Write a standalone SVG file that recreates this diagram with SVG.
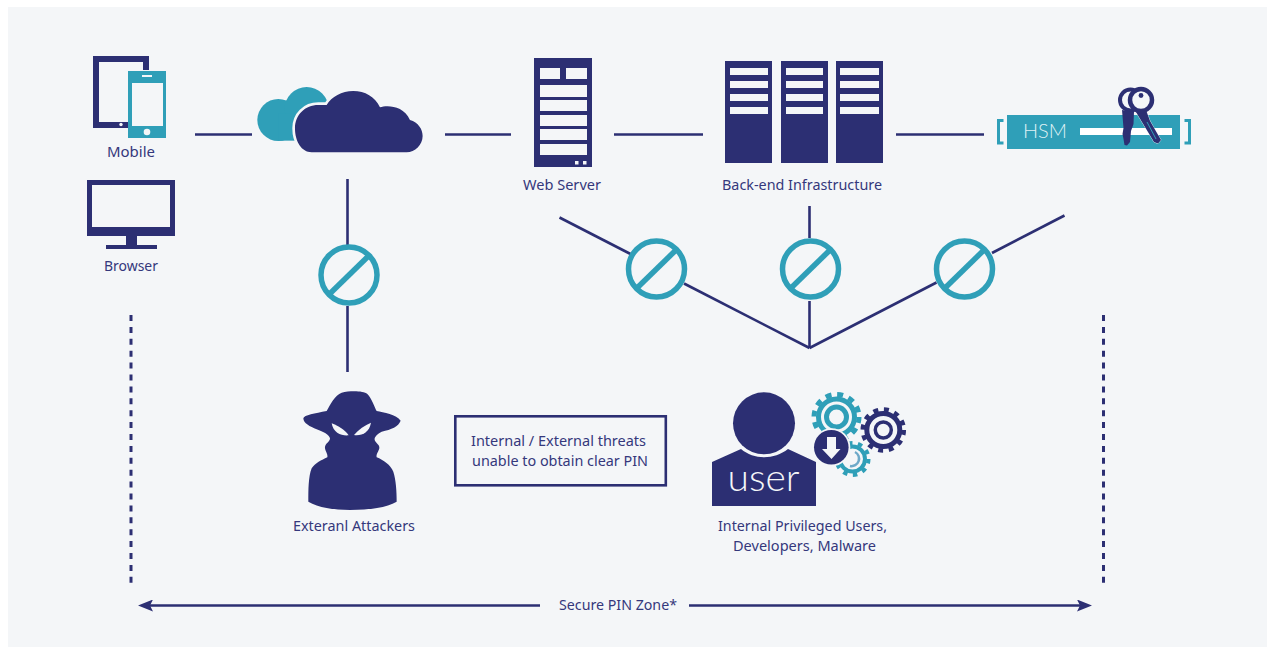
<svg xmlns="http://www.w3.org/2000/svg" width="1267" height="647" viewBox="0 0 1267 647">
<style>
.navy{fill:#2c2f73}
.teal{fill:#2f9fb8}
.bg{fill:#f4f6f8}
.wire{stroke:#2c2f73;stroke-width:2.6;fill:none}
.ring{fill:#f4f6f8;stroke:#2f9fb8;stroke-width:5.5}
.slash{stroke:#2f9fb8;stroke-width:5.5}
.lbl{font-family:"Noto Sans","Open Sans",sans-serif;font-size:14.500px;fill:#35387c}
</style>
<defs>
<marker id="head" viewBox="0 0 15 12" refX="3" refY="6" markerWidth="15" markerHeight="12" markerUnits="userSpaceOnUse" orient="auto-start-reverse"><path d="M0 0L15 6L0 12L3 6Z" fill="#2c2f73"/></marker>
<g id="block"><circle r="28" class="ring"/><line x1="-19.5" y1="19" x2="19.5" y2="-19" class="slash"/></g>
</defs>
<rect width="1267" height="647" fill="#ffffff"/>
<rect x="8" y="7" width="1259" height="640" class="bg"/>

<g id="connectors">
<line class="wire" x1="195" y1="134.5" x2="252" y2="134.5"/>
<line class="wire" x1="445" y1="134.5" x2="511" y2="134.5"/>
<line class="wire" x1="614" y1="134.5" x2="703" y2="134.5"/>
<line class="wire" x1="896" y1="134.5" x2="984" y2="134.5"/>
<line class="wire" x1="347.5" y1="179" x2="347.5" y2="245"/>
<line class="wire" x1="347.5" y1="306" x2="347.5" y2="372"/>
<line class="wire" x1="559.5" y1="217.5" x2="630.5" y2="254"/>
<line class="wire" x1="684" y1="283.5" x2="809.5" y2="348"/>
<line class="wire" x1="809.5" y1="206" x2="809.5" y2="238"/>
<line class="wire" x1="809.5" y1="301" x2="809.5" y2="348"/>
<line class="wire" x1="1064.5" y1="215.5" x2="992" y2="253"/>
<line class="wire" x1="936.5" y1="282.5" x2="809.5" y2="348"/>
<line class="wire" x1="131" y1="315" x2="131" y2="584" stroke-dasharray="6 5.9" style="stroke-width:3"/>
<line class="wire" x1="1103.5" y1="315" x2="1103.5" y2="584" stroke-dasharray="6 5.9" style="stroke-width:3"/>
<line class="wire" x1="540" y1="605.5" x2="150" y2="605.5" marker-end="url(#head)"/>
<line class="wire" x1="689" y1="605.5" x2="1080" y2="605.5" marker-end="url(#head)"/>
</g>

<g id="block-external"><use href="#block" x="349" y="275"/></g>
<g id="block-web"><use href="#block" x="656.5" y="269"/></g>
<g id="block-backend"><use href="#block" x="810.5" y="269"/></g>
<g id="block-hsm"><use href="#block" x="964.5" y="269"/></g>

<g id="mobile">
<path class="navy" d="M93 56H149V70H143V62H99V122H128V128H93Z"/>
<circle cx="121" cy="124.500" r="1.700" fill="#f4f6f8"/>
<rect class="teal" x="128" y="71" width="38" height="67"/>
<rect class="bg" x="132" y="83" width="31" height="43"/>
<rect class="bg" x="142" y="75" width="10" height="2"/>
<circle cx="147" cy="132" r="3.300" fill="#f4f6f8"/>
<text class="lbl" x="107" y="157" textLength="48" lengthAdjust="spacingAndGlyphs">Mobile</text>
</g>

<g id="browser">
<path class="navy" d="M87 180H175V236H137V245H157V249H106V245H126V236H87Z"/>
<rect class="bg" x="92" y="185" width="78" height="42"/>
<text class="lbl" x="104" y="271" textLength="54" lengthAdjust="spacingAndGlyphs">Browser</text>
</g>

<g id="cloud" transform="translate(70 40) scale(.3333)">
<circle class="teal" cx="625" cy="240" r="63"/>
<circle class="teal" cx="710" cy="207" r="66"/>
<rect class="teal" x="625" y="220" width="60" height="82"/>
<path class="navy" d="M725 337C695 337 675 305 675 265C675 225 705 195 745 195L770 195C785 170 815 153 850 153C885 153 915 170 930 202C950 195 1000 195 1020 240C1045 247 1058 268 1058 288C1058 315 1035 337 1010 337Z" stroke="#f4f6f8" stroke-width="16" paint-order="stroke"/>
</g>

<g id="web-server">
<rect class="navy" x="534" y="58" width="58" height="109"/>
<g class="bg">
<rect x="540" y="68" width="20" height="11"/>
<rect x="566" y="68" width="21" height="11"/>
<rect x="540" y="85" width="47" height="12"/>
<rect x="540" y="100" width="47" height="11"/>
<rect x="540" y="115" width="47" height="11"/>
<rect x="540" y="129" width="47" height="11"/>
<rect x="540" y="144" width="47" height="11"/>
<rect x="575" y="161" width="3.500" height="3.500"/>
<rect x="583" y="161" width="3.500" height="3.500"/>
</g>
<text class="lbl" x="523" y="190" textLength="78" lengthAdjust="spacingAndGlyphs">Web Server</text>
</g>

<g id="backend">
<rect class="navy" x="725" y="61" width="47" height="102"/>
<rect class="navy" x="781" y="61" width="47" height="102"/>
<rect class="navy" x="836" y="61" width="47" height="102"/>
<g class="bg">
<rect x="730" y="68" width="38" height="7"/><rect x="730" y="81" width="38" height="7"/><rect x="730" y="94" width="38" height="7"/><rect x="730" y="107" width="38" height="7"/>
<rect x="786" y="68" width="37" height="7"/><rect x="786" y="81" width="37" height="7"/><rect x="786" y="94" width="37" height="7"/><rect x="786" y="107" width="37" height="7"/>
<rect x="840" y="68" width="39" height="7"/><rect x="840" y="81" width="39" height="7"/><rect x="840" y="94" width="39" height="7"/><rect x="840" y="107" width="39" height="7"/>
</g>
<text class="lbl" x="722" y="190" textLength="160" lengthAdjust="spacingAndGlyphs">Back-end Infrastructure</text>
</g>

<g id="hsm">
<rect class="teal" x="1007" y="115" width="173" height="34"/>
<path d="M1003.500 120.500H998.500V143H1003.500M1184.500 120.500H1189.500V143H1184.500" fill="none" stroke="#2f9fb8" stroke-width="3"/>
<text x="1023" y="138" font-family="Lato,'Open Sans',sans-serif" font-size="20.500" font-weight="300" fill="#dff1f5" textLength="44" lengthAdjust="spacingAndGlyphs">HSM</text>
<rect x="1080" y="128" width="92" height="7" fill="#ffffff"/>
<circle cx="1130.500" cy="100" r="10.500" fill="#f4f6f8" stroke="#2c2f73" stroke-width="4"/>
<path class="navy" d="M1122 110L1134 112L1133.500 124L1131 131L1130 142L1127 145.500L1124.500 145L1123.500 139L1122.500 134L1123.500 128Z"/>
<path class="navy" d="M1136 112L1146 110L1150 121L1161 140L1158 143.500L1154 142L1148 132L1142 122Z" stroke="#f4f6f8" stroke-width=".8" paint-order="stroke"/>
<path d="M1147 122L1156 139" stroke="#2f9fb8" stroke-width="1" fill="none"/>
<circle cx="1141" cy="100" r="11" fill="#f4f6f8" stroke="#2c2f73" stroke-width="4.500"/>
<circle cx="1141" cy="95.500" r="2.400" class="navy"/>
</g>

<g id="attacker">
<g transform="translate(280 380) scale(.3333)">
<path class="navy" d="M185 38C210 32 250 32 262 42C275 55 285 85 290 93C310 97 350 103 362 122C355 140 335 148 305 155C295 160 282 170 284 180C288 190 300 195 298 205C296 215 288 222 290 232C310 240 332 255 340 275C348 300 350 335 350 365C320 382 270 390 210 390C160 390 115 382 85 365C85 330 85 290 95 265C105 250 125 240 142 232C145 222 133 210 135 200C137 190 150 185 150 175C148 165 130 155 110 148C90 140 70 130 70 115C72 105 105 100 140 93C150 75 165 45 185 38Z"/>
<path class="bg" d="M155 130C175 138 195 150 206 166C185 168 160 160 155 130Z"/>
<path class="bg" d="M273 128C255 136 235 148 222 165C245 168 268 158 273 128Z"/>
</g>
<text class="lbl" x="293" y="530.500" textLength="122" lengthAdjust="spacingAndGlyphs">Exteranl Attackers</text>
</g>

<g id="threat-note">
<rect x="455.300" y="416.300" width="210.500" height="69" fill="none" stroke="#2c2f73" stroke-width="2.600"/>
<text class="lbl" x="471" y="445.700" textLength="175" lengthAdjust="spacingAndGlyphs">Internal / External threats</text>
<text class="lbl" x="472" y="466" textLength="176" lengthAdjust="spacingAndGlyphs">unable to obtain clear PIN</text>
</g>

<g id="user">
<circle cx="836.500" cy="417" r="18" fill="none" stroke="#2f9fb8" stroke-width="5"/>
<circle cx="836.500" cy="417" r="22.500" fill="none" stroke="#2f9fb8" stroke-width="5" stroke-dasharray="6 5.781"/>
<circle cx="836.500" cy="417" r="10" fill="none" stroke="#2f9fb8" stroke-width="5"/>
<circle cx="883.300" cy="430" r="16.500" fill="none" stroke="#2c2f73" stroke-width="5"/>
<circle cx="883.300" cy="430" r="20.500" fill="none" stroke="#2c2f73" stroke-width="4.500" stroke-dasharray="5 5.734"/>
<circle cx="883.300" cy="430" r="8" fill="none" stroke="#2c2f73" stroke-width="3.500"/>
<circle cx="852.500" cy="459" r="12.500" fill="none" stroke="#2f9fb8" stroke-width="4"/>
<circle cx="852.500" cy="459" r="16" fill="none" stroke="#2f9fb8" stroke-width="4" stroke-dasharray="4.500 5.553"/>
<path d="M850 466A7.500 7.500 0 0 0 855 452" fill="none" stroke="#6da9c8" stroke-width="2.500"/>
<circle class="navy" cx="831.300" cy="447.300" r="17.300" stroke="#f4f6f8" stroke-width="3.500" paint-order="stroke"/>
<path d="M827 437H836V449H840.500L831.500 459L822 449H827Z" fill="#f4f6f8"/>
<circle class="navy" cx="764" cy="423.300" r="31"/>
<path class="navy" d="M712 462L741 449C754 460 774 460 788 449L816 462V506H712Z"/>
<text x="727.500" y="491" font-family="Lato,'Open Sans',sans-serif" font-size="37" font-weight="300" fill="#f4f6f8" textLength="72" lengthAdjust="spacingAndGlyphs">user</text>
<text class="lbl" x="718" y="531" textLength="169" lengthAdjust="spacingAndGlyphs">Internal Privileged Users,</text>
<text class="lbl" x="733" y="550.700" textLength="143" lengthAdjust="spacingAndGlyphs">Developers, Malware</text>
</g>

<g id="zone-label"><text class="lbl" x="559" y="610" textLength="118" lengthAdjust="spacingAndGlyphs">Secure PIN Zone*</text></g>
</svg>
